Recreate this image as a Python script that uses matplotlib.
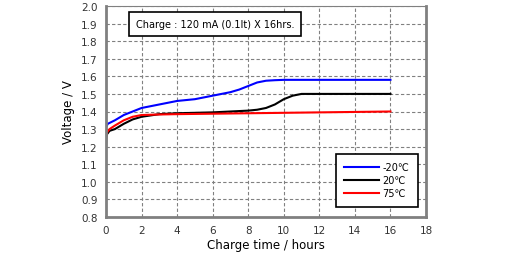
import matplotlib.pyplot as plt
import numpy as np

# charge curves
t_m20 = [0, 0.05, 0.1, 0.5, 1, 1.5, 2, 3, 4, 5, 6, 7, 7.5, 8, 8.5, 9, 9.5, 10, 12, 16]
v_m20 = [1.31, 1.32, 1.33, 1.35, 1.38, 1.40, 1.42, 1.44, 1.46, 1.47, 1.49, 1.51, 1.525, 1.545, 1.565, 1.575, 1.578, 1.58, 1.58, 1.58]

t_20 = [0, 0.02, 0.05, 0.2, 0.5, 1, 1.5, 2, 3, 4, 6, 8, 8.5, 9, 9.5, 10, 10.5, 11, 12, 16]
v_20 = [1.20, 1.25, 1.27, 1.29, 1.30, 1.33, 1.355, 1.37, 1.385, 1.39, 1.395, 1.405, 1.41, 1.42, 1.44, 1.47, 1.49, 1.50, 1.50, 1.50]

t_75 = [0, 0.05, 0.2, 0.5, 1, 1.5, 2, 3, 4, 8, 12, 16]
v_75 = [1.26, 1.28, 1.30, 1.32, 1.35, 1.37, 1.38, 1.383, 1.385, 1.39, 1.395, 1.40]

labels = ['-20℃', '20℃', '75℃']
colors = ['#0000ff', '#000000', '#ff0000']
note = 'Charge : 120 mA (0.1It) X 16hrs.'

plt.rcParams['font.family'] = ['DejaVu Sans', 'Noto Sans CJK JP']
plt.rcParams['font.size'] = 7.5

fig = plt.figure(figsize=(5.1, 2.55), dpi=100)
ax = fig.add_axes([106/510, 1 - 218/255, 320/510, 211/255])

for t, v, c, lab in zip([t_m20, t_20, t_75], [v_m20, v_20, v_75], colors, labels):
    ax.plot(t, v, color=c, lw=1.5, label=lab)

ax.set_xlim(0, 18)
ax.set_ylim(0.8, 2.0)
ax.set_xticks(np.arange(0, 19, 2))
ax.set_yticks(np.arange(0.8, 2.01, 0.1))
ax.set_yticklabels(['%.1f' % y for y in np.arange(0.8, 2.01, 0.1)])
ax.grid(True, color='#808080', ls=(0, (3, 2)), lw=0.8)
ax.tick_params(length=0, pad=6, colors='#333333')

for s in ax.spines.values():
    s.set_color('#808080')
ax.spines['left'].set_linewidth(2)
ax.spines['bottom'].set_linewidth(2)
ax.spines['right'].set_linewidth(2)
ax.spines['top'].set_linewidth(0.8)

ax.set_xlabel('Charge time / hours', fontsize=8.5, labelpad=2)
ax.set_ylabel('Voltage / V', fontsize=8.5, labelpad=4)

ax.text(0.34, 0.915, note, transform=ax.transAxes, ha='center', va='center', fontsize=7,
        bbox=dict(boxstyle='square,pad=0.7', fc='white', ec='black', lw=1.2))

leg = ax.legend(loc='lower right', bbox_to_anchor=(0.975, 0.047), borderaxespad=0,
                fancybox=False, framealpha=1, edgecolor='black', handlelength=3.6,
                handletextpad=0.3, fontsize=7, borderpad=0.9, labelspacing=0.3)
leg.get_frame().set_linewidth(1.2)

plt.savefig('out.png', dpi=100)
